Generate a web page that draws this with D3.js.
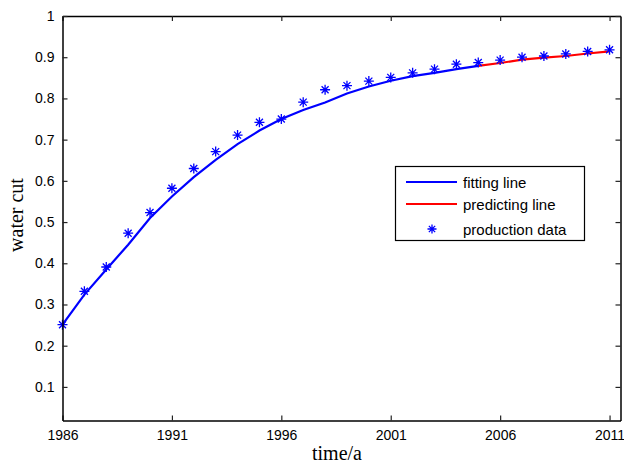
<!DOCTYPE html>
<html><head><meta charset="utf-8">
<script src="https://cdn.jsdelivr.net/npm/d3@7"></script>
<style>body{margin:0;background:#fff}svg{display:block}</style>
</head><body>
<script>
const fitYears = [1986,1987,1988,1989,1990,1991,1992,1993,1994,1995,1996,1997,1998,1999,2000,2001,2002,2003,2004,2005];
const fitValues = [0.251,0.324,0.385,0.445,0.510,0.562,0.609,0.651,0.689,0.722,0.750,0.772,0.790,0.812,0.829,0.843,0.854,0.862,0.871,0.879];
const predYears = [2005,2006,2007,2008,2009,2010,2011];
const predValues = [0.879,0.886,0.894,0.899,0.903,0.909,0.914];
const dataYears = [1986,1987,1988,1989,1990,1991,1992,1993,1994,1995,1996,1997,1998,1999,2000,2001,2002,2003,2004,2005,2006,2007,2008,2009,2010,2011];
const dataValues = [0.251,0.332,0.391,0.473,0.523,0.582,0.630,0.671,0.711,0.742,0.750,0.791,0.821,0.831,0.842,0.851,0.862,0.871,0.883,0.887,0.893,0.900,0.903,0.908,0.914,0.918];
const xTicks = [1986,1991,1996,2001,2006,2011];
const yTicks = [0.1,0.2,0.3,0.4,0.5,0.6,0.7,0.8,0.9,1];
const legendLabels = ["fitting line","predicting line","production data"];

const W=624,H=463;
const L=62.5,R=620.5,T=16,B=420.5;
const x=d3.scaleLinear().domain([1986,2011.5]).range([L,R]);
const y=d3.scaleLinear().domain([0.0185,1]).range([B,T]);

const svg=d3.select("body").append("svg").attr("width",W).attr("height",H);

const line=d3.line().x(d=>x(d[0])).y(d=>y(d[1]));
const g=svg.append("g");
g.append("path").datum(fitYears.map((v,i)=>[v,fitValues[i]])).attr("d",line)
 .attr("fill","none").attr("stroke","#0000ff").attr("stroke-width",2.2);
g.append("path").datum(predYears.map((v,i)=>[v,predValues[i]])).attr("d",line)
 .attr("fill","none").attr("stroke","#ff0000").attr("stroke-width",2.2);

function star(sel,cx,cy,s){
  const a=s*0.7;
  sel.append("path").attr("d",`M${cx-s},${cy}L${cx+s},${cy}M${cx},${cy-s}L${cx},${cy+s}M${cx-a},${cy-a}L${cx+a},${cy+a}M${cx-a},${cy+a}L${cx+a},${cy-a}`)
   .attr("stroke","#0000ff").attr("stroke-width",1.3).attr("fill","none");
}
dataYears.forEach((yr,i)=>star(g,x(yr),y(dataValues[i]),5));

// axes
const font="Liberation Sans, Arial, sans-serif";
const xb=d3.axisBottom(x).tickValues(xTicks).tickFormat(d3.format("d")).tickSizeInner(-5).tickSizeOuter(0).tickPadding(9.5);
const xt=d3.axisTop(x).tickValues(xTicks).tickFormat("").tickSizeInner(-5).tickSizeOuter(0);
const yl=d3.axisLeft(y).tickValues(yTicks).tickFormat(d=>d===1?"1":d3.format(".1f")(d)).tickSizeInner(-5).tickSizeOuter(0).tickPadding(8);
const yr=d3.axisRight(y).tickValues(yTicks).tickFormat("").tickSizeInner(-5).tickSizeOuter(0);
function style(a){
  a.selectAll("path.domain").attr("stroke","#000").attr("stroke-width",1.5);
  a.selectAll(".tick line").attr("stroke","#222").attr("stroke-width",1.2);
  a.selectAll("text").attr("font-family",font).attr("font-size",14).attr("fill","#000");
}
svg.append("g").attr("transform",`translate(0,${B})`).call(xb).call(style);
svg.append("g").attr("transform",`translate(0,${T})`).call(xt).call(style);
svg.append("g").attr("transform",`translate(${L},0)`).call(yl).call(style);
svg.append("g").attr("transform",`translate(${R},0)`).call(yr).call(style);

// titles
svg.append("text").attr("x",337).attr("y",460).attr("text-anchor","middle")
 .attr("font-family","Liberation Serif, Times New Roman, serif").attr("font-size",20).text("time/a");
svg.append("text").attr("transform",`translate(23,215) rotate(-90)`).attr("text-anchor","middle")
 .attr("font-family","Liberation Serif, Times New Roman, serif").attr("font-size",20).text("water cut");

// legend
const lg=svg.append("g");
lg.append("rect").attr("x",395.5).attr("y",166.5).attr("width",189).attr("height",74)
 .attr("fill","#fff").attr("stroke","#000").attr("stroke-width",1.2);
const rows=[182,204,229];
lg.append("line").attr("x1",406).attr("x2",457).attr("y1",rows[0]).attr("y2",rows[0]).attr("stroke","#0000ff").attr("stroke-width",2.2);
lg.append("line").attr("x1",406).attr("x2",457).attr("y1",rows[1]).attr("y2",rows[1]).attr("stroke","#ff0000").attr("stroke-width",2.2);
star(lg,432,rows[2],4.5);
legendLabels.forEach((t,i)=>lg.append("text").attr("x",463).attr("y",rows[i]+5.5).attr("font-family",font).attr("font-size",15).text(t));
</script>
</body></html>
